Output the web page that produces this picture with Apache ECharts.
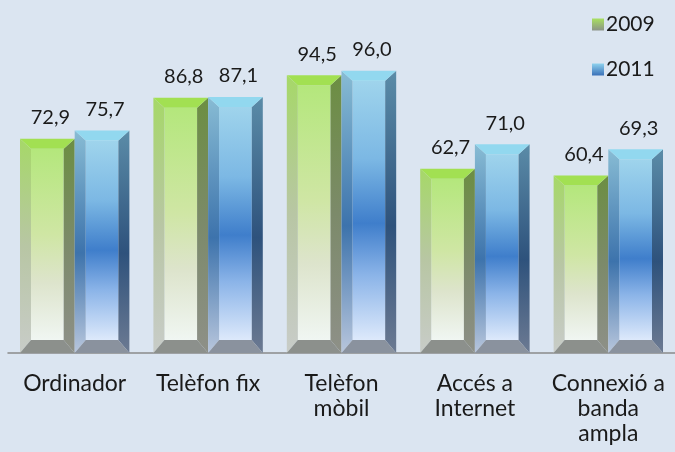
<!DOCTYPE html>
<html>
<head>
<meta charset="utf-8">
<script src="https://cdn.jsdelivr.net/npm/echarts@6/dist/echarts.min.js"></script>
<style>
html, body { margin: 0; padding: 0; background: #dbe5f1; }
#chart { width: 675px; height: 452px; }
</style>
</head>
<body>
<div id="chart"></div>
<script>
// categories and values
const categories = ['Ordinador', 'Telèfon fix', 'Telèfon\nmòbil', 'Accés a\nInternet', 'Connexió a\nbanda\nampla']
const values2009 = [72.9, 86.8, 94.5, 62.7, 60.4]
const values2011 = [75.7, 87.1, 96.0, 71.0, 69.3]
const seriesNames = ['2009', '2011']

const grad = (stops) => new echarts.graphic.LinearGradient(0, 0, 0, 1,
    stops.map((c, i) => ({ offset: c[0], color: c[1] })))

// bevel colours for each series
const looks = [
    {
        top: '#a2e052',
        face: [[0, '#b4e77c'], [0.45, '#cfe6a4'], [0.7, '#dde4cc'], [1, '#f0f6f2']],
        left: [[0, '#a6d868'], [0.5, '#b8c6a4'], [1, '#c8ccc8']],
        right: [[0, '#6c8e42'], [0.5, '#7c8a6a'], [1, '#8e9088']],
        bottom: '#8c908c',
        legend: [[0, '#a8e060'], [1, '#8c9488']]
    },
    {
        top: '#92d8ef',
        face: [[0, '#9fd4ec'], [0.3, '#7cb8e4'], [0.55, '#3f7ecb'], [0.75, '#8bb4e8'], [1, '#dde9fb']],
        left: [[0, '#88bcd4'], [0.55, '#3d73ac'], [1, '#b8c6dc']],
        right: [[0, '#5b8ca8'], [0.55, '#2e527c'], [1, '#6c7a92']],
        bottom: '#8a929e',
        legend: [[0, '#8ed2ee'], [1, '#3a70b8']]
    }
]

function fmt(v) {
    return v.toFixed(1).replace('.', ',')
}

function makeRender(idx) {
    const lk = looks[idx]
    return function (params, api) {
        const cat = api.value(0)
        const val = api.value(1)
        const top = api.coord([cat, val])
        const base = api.coord([cat, 0])
        const band = api.size([1, 0])[0]
        const w = band * 0.41
        const x0 = idx === 0 ? top[0] - w : top[0]
        const x1 = x0 + w
        const y0 = top[1]
        const y1 = base[1]
        const b = 11, tb = 10, bb = 13
        return {
            type: 'group',
            children: [
                {
                    type: 'rect',
                    shape: { x: x0 + b, y: y0 + tb, width: w - 2 * b, height: (y1 - bb) - (y0 + tb) },
                    style: { fill: grad(lk.face) }
                },
                {
                    type: 'polygon',
                    shape: { points: [[x0, y0], [x0 + b, y0 + tb], [x0 + b, y1 - bb], [x0, y1]] },
                    style: { fill: grad(lk.left) }
                },
                {
                    type: 'polygon',
                    shape: { points: [[x1, y0], [x1, y1], [x1 - b, y1 - bb], [x1 - b, y0 + tb]] },
                    style: { fill: grad(lk.right) }
                },
                {
                    type: 'polygon',
                    shape: { points: [[x0, y0], [x1, y0], [x1 - b, y0 + tb], [x0 + b, y0 + tb]] },
                    style: { fill: lk.top }
                },
                {
                    type: 'polygon',
                    shape: { points: [[x0, y1], [x0 + b, y1 - bb], [x1 - b, y1 - bb], [x1, y1]] },
                    style: { fill: lk.bottom }
                },
                {
                    type: 'text',
                    x: (x0 + x1) / 2 + 3,
                    y: y0 - 11,
                    style: {
                        text: fmt(val),
                        fill: '#1a1a1a',
                        font: '20px Lato',
                        align: 'center',
                        verticalAlign: 'bottom'
                    }
                }
            ]
        }
    }
}

const chart = echarts.init(document.getElementById('chart'))
const option = {
    backgroundColor: '#dbe5f1',
    animation: false,
    legend: {
        orient: 'vertical',
        left: 587,
        top: 9,
        itemGap: 24,
        itemWidth: 12,
        itemHeight: 12,
        icon: 'rect',
        textStyle: { fontSize: 21, fontFamily: 'Lato', color: '#1a1a1a', padding: [0, 0, 0, -3] },
        data: seriesNames
    },
    grid: { left: 8, width: 672, top: 59, bottom: 99 },
    xAxis: {
        type: 'category',
        data: categories,
        axisLine: { lineStyle: { color: '#8a8a8a', width: 1.5 } },
        axisTick: { length: 6, lineStyle: { color: '#8a8a8a', width: 1.5 } },
        axisLabel: {
            interval: 0,
            margin: 18,
            fontSize: 23,
            lineHeight: 25,
            fontFamily: 'Lato',
            color: '#1a1a1a'
        }
    },
    yAxis: { type: 'value', min: 0, max: 100, show: false },
    series: [values2009, values2011].map((vals, i) => ({
        name: seriesNames[i],
        type: 'custom',
        renderItem: makeRender(i),
        itemStyle: { color: grad(looks[i].legend) },
        encode: { x: 0, y: 1 },
        data: vals.map((v, k) => [k, v])
    }))
}
chart.setOption(option)
</script>
</body>
</html>
